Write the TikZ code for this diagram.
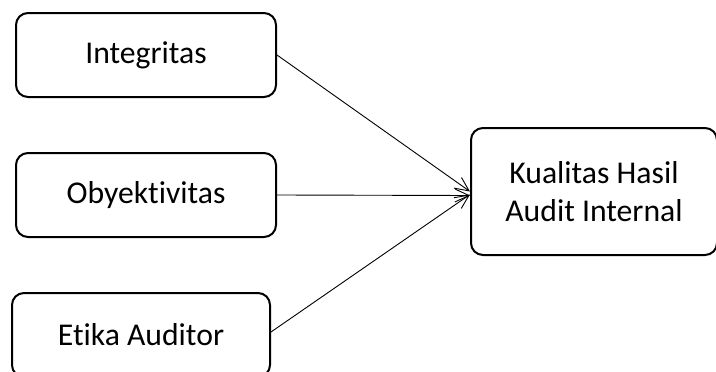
\documentclass[tikz,border=0pt]{standalone}
\usepackage{fontspec}
\setmainfont[Ligatures=NoCommon]{Carlito}
\usetikzlibrary{arrows.meta}
\begin{document}
\begin{tikzpicture}[x=1pt,y=-1pt,
		varbox/.style={draw,line width=2pt,rounded corners=12pt,align=center,inner sep=0pt,font=\fontsize{31.7}{38}\selectfont},
		link/.style={line width=0.9pt,-{Straight Barb[length=14pt,width=13pt,line width=0.9pt]}}]
		\useasboundingbox (0,0) rectangle (716,372);
		\node[varbox,minimum width=260,minimum height=84] (integ) at (146,55) {Integritas};
		\node[varbox,minimum width=260,minimum height=84] (obyek) at (146,195) {Obyektivitas};
		\node[varbox,minimum width=258,minimum height=84] (etika) at (141,335) {Etika Auditor};
		\node[varbox,minimum width=246,minimum height=127] (kual) at (594,191.5) {Kualitas Hasil\\Audit Internal};
		\draw[link] (integ.east) -- (kual.west);
		\draw[link] (obyek.east) -- ([yshift=-4pt]kual.west);
		\draw[link] ([yshift=3pt]etika.east) -- ([yshift=-3pt]kual.west);
	\end{tikzpicture}
\end{document}
